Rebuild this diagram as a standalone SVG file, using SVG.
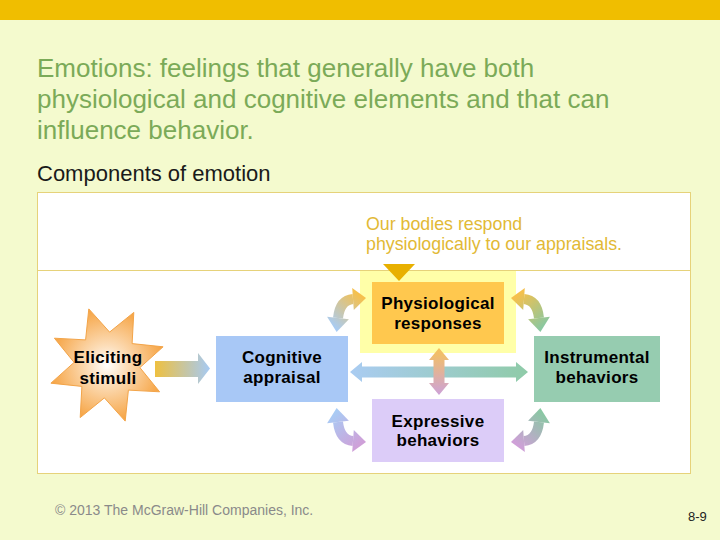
<svg xmlns="http://www.w3.org/2000/svg" width="720" height="540" viewBox="0 0 720 540">
<style>
.title{font-family:"Liberation Sans",Arial,sans-serif;font-size:26px;fill:#7BAA58}
.sub{font-family:"Liberation Sans",Arial,sans-serif;font-size:22px;fill:#1a1a1a}
.note{font-family:"Liberation Sans",Arial,sans-serif;font-size:17.8px;fill:#E2B935}
.lbl{font-family:"Liberation Sans",Arial,sans-serif;font-size:17px;font-weight:bold;fill:#000;text-anchor:middle;letter-spacing:0.3px}
.foot{font-family:"Liberation Sans",Arial,sans-serif;font-size:14px;fill:#8a8a8a}
.pg{font-family:"Liberation Sans",Arial,sans-serif;font-size:13px;fill:#222}
</style>
<defs>
<radialGradient id="starG" cx="0.5" cy="0.5" r="0.5">
<stop offset="0" stop-color="#FFFFFF"/>
<stop offset="0.35" stop-color="#FCDDB8"/>
<stop offset="1" stop-color="#F6A648"/>
</radialGradient>
<linearGradient id="gStim" x1="0" y1="0" x2="1" y2="0">
<stop offset="0" stop-color="#EEC040"/>
<stop offset="1" stop-color="#A6CAF4"/>
</linearGradient>
<linearGradient id="gH" x1="0" y1="0" x2="1" y2="0">
<stop offset="0" stop-color="#AACCF2"/>
<stop offset="1" stop-color="#8FCBA8"/>
</linearGradient>
<linearGradient id="gV" x1="0" y1="0" x2="0" y2="1">
<stop offset="0" stop-color="#F6C25A"/>
<stop offset="1" stop-color="#CDA2D8"/>
</linearGradient>
<linearGradient id="gTL" gradientUnits="userSpaceOnUse" x1="334" y1="328" x2="362" y2="297">
<stop offset="0" stop-color="#A8CCF5"/>
<stop offset="1" stop-color="#F6C04C"/>
</linearGradient>
<linearGradient id="gTR" gradientUnits="userSpaceOnUse" x1="334" y1="328" x2="362" y2="297">
<stop offset="0" stop-color="#88C8A2"/>
<stop offset="1" stop-color="#F6C04C"/>
</linearGradient>
<linearGradient id="gBL" gradientUnits="userSpaceOnUse" x1="334" y1="328" x2="362" y2="297">
<stop offset="0" stop-color="#A8CCF5"/>
<stop offset="1" stop-color="#CFA0D8"/>
</linearGradient>
<linearGradient id="gBR" gradientUnits="userSpaceOnUse" x1="334" y1="328" x2="362" y2="297">
<stop offset="0" stop-color="#88C8A2"/>
<stop offset="1" stop-color="#CFA0D8"/>
</linearGradient>
<g id="carc">
<path d="M338 318 Q340 300 353 299" fill="none" stroke-width="10"/>
<polygon points="348.9,319.2 327.1,316.8 336.6,331.9" stroke="none"/>
<polygon points="353.8,310 352.2,288 366,298.1" stroke="none"/>
</g>
</defs>

<rect x="0" y="0" width="720" height="540" fill="#F4FACE"/>
<rect x="0" y="0" width="720" height="20" fill="#F0BE00"/>

<text class="title" x="37" y="77">Emotions: feelings that generally have both</text>
<text class="title" x="37" y="108">physiological and cognitive elements and that can</text>
<text class="title" x="37" y="139">influence behavior.</text>
<text class="sub" x="37" y="181">Components of emotion</text>

<g id="frame">
<rect x="37.5" y="192.5" width="653" height="281" fill="#FFFFFF" stroke="#E6D27A" stroke-width="1"/>
<line x1="37.5" y1="270.5" x2="690.5" y2="270.5" stroke="#E6D27A" stroke-width="1"/>
</g>

<g id="note">
<text class="note" x="366" y="230">Our bodies respond</text>
<text class="note" x="366" y="250">physiologically to our appraisals.</text>
</g>

<rect x="360" y="271" width="156" height="82" fill="#FFFFA8"/>
<polygon points="383,264 415,264 399,281" fill="#E8B000"/>

<g id="stimuli">
<polygon points="88.8,308.9 109.6,332.1 133.8,312.4 132.1,343.6 163.1,346.8 139.9,367.6 159.6,391.8 128.4,390.1 125.2,421.1 104.4,397.9 80.2,417.6 81.9,386.4 50.9,383.2 74.1,362.4 54.4,338.2 85.6,339.9" fill="url(#starG)" stroke="#F3A448" stroke-width="1"/>
<text class="lbl" x="108" y="363">Eliciting</text>
<text class="lbl" x="108" y="384">stimuli</text>
</g>

<g id="physiological">
<rect x="372" y="282" width="132" height="62" fill="#FFC84E"/>
<text class="lbl" x="438" y="309">Physiological</text>
<text class="lbl" x="438" y="329">responses</text>
</g>

<g id="cognitive">
<rect x="216" y="336" width="132" height="66" fill="#A8C8F6"/>
<text class="lbl" x="282" y="363">Cognitive</text>
<text class="lbl" x="282" y="383">appraisal</text>
</g>

<g id="instrumental">
<rect x="534" y="336" width="126" height="66" fill="#96CCB0"/>
<text class="lbl" x="597" y="363">Instrumental</text>
<text class="lbl" x="597" y="383">behaviors</text>
</g>

<g id="expressive">
<rect x="372" y="399" width="132" height="63" fill="#DCCCF8"/>
<text class="lbl" x="438" y="427">Expressive</text>
<text class="lbl" x="438" y="446">behaviors</text>
</g>

<g id="connectors">
<polygon points="155,361 198,361 198,353 210,368.5 198,384 198,377 155,377" fill="url(#gStim)"/>
<polygon points="350,372 362,362 362,366.5 516,366.5 516,362 528,372 516,382 516,377.5 362,377.5 362,382" fill="url(#gH)"/>
<polygon points="439,348 449,360 444.5,360 444.5,383 449,383 439,395 429,383 433.5,383 433.5,360 429,360" fill="url(#gV)"/>
<use href="#carc" fill="url(#gTL)" stroke="url(#gTL)"/>
<use href="#carc" fill="url(#gTR)" stroke="url(#gTR)" transform="translate(877,0) scale(-1,1)"/>
<use href="#carc" fill="url(#gBL)" stroke="url(#gBL)" transform="translate(0,740) scale(1,-1)"/>
<use href="#carc" fill="url(#gBR)" stroke="url(#gBR)" transform="translate(877,740) scale(-1,-1)"/>
</g>

<text class="foot" x="55" y="515">© 2013 The McGraw-Hill Companies, Inc.</text>
<text class="pg" x="688" y="521">8-9</text>
</svg>
